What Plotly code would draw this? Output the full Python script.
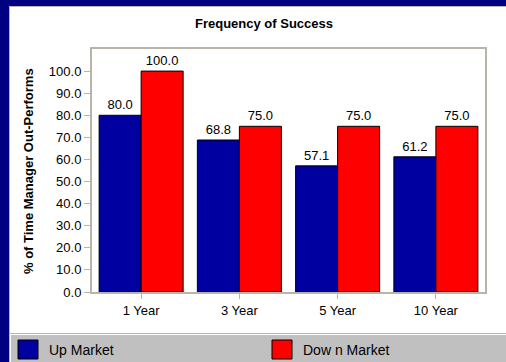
import plotly.graph_objects as go

categories = ["1 Year", "3 Year", "5 Year", "10 Year"]
up_market = [80.0, 68.8, 57.1, 61.2]
down_market = [100.0, 75.0, 75.0, 75.0]
series_names = ["Up Market", "Dow n Market"]
y_ticks = [0, 10, 20, 30, 40, 50, 60, 70, 80, 90, 100]

W, H = 506, 362
L, R, T, B = 92, 21, 49, 70
pw, ph = W - L - R, H - T - B

BLUE = "#0000A0"
RED = "#FF0000"
NAVY = "#000080"
LINE = "#B8B4A8"
FONT = "Liberation Sans, Arial, sans-serif"

def px(x):
    return (x - L) / pw

def py(y):
    return (H - B - y) / ph

fig = go.Figure()
for name, vals, col in [(series_names[0], up_market, BLUE), (series_names[1], down_market, RED)]:
    fig.add_trace(go.Bar(
        x=categories, y=vals, name=name,
        marker=dict(color=col, line=dict(color="black", width=1)),
        text=[f"{v:.1f}" for v in vals], textposition="outside",
        textfont=dict(family=FONT, size=13, color="black"),
        cliponaxis=False, showlegend=False,
    ))

shapes = [
    dict(type="rect", xref="paper", yref="paper", x0=px(-5), x1=px(520), y0=py(-5), y1=py(6),
         fillcolor=NAVY, line=dict(width=0), layer="below"),
    dict(type="rect", xref="paper", yref="paper", x0=px(-5), x1=px(9), y0=py(-5), y1=py(370),
         fillcolor=NAVY, line=dict(width=0), layer="below"),
    dict(type="line", xref="paper", yref="paper", x0=px(9), x1=px(520), y0=py(6.5), y1=py(6.5),
         line=dict(color=LINE, width=1)),
    dict(type="line", xref="paper", yref="paper", x0=px(9.5), x1=px(9.5), y0=py(6), y1=py(370),
         line=dict(color=LINE, width=1)),
    dict(type="line", xref="paper", yref="paper", x0=px(9), x1=px(520), y0=py(333.5), y1=py(333.5),
         line=dict(color=LINE, width=1)),
    dict(type="rect", xref="paper", yref="paper", x0=px(11), x1=px(520), y0=py(335), y1=py(370),
         fillcolor="#C0C0C0", line=dict(width=0), layer="below"),
    dict(type="rect", xref="paper", yref="paper", x0=px(18), x1=px(38), y0=py(340), y1=py(359),
         fillcolor=BLUE, line=dict(color="black", width=1)),
    dict(type="rect", xref="paper", yref="paper", x0=px(272), x1=px(292), y0=py(340), y1=py(359),
         fillcolor=RED, line=dict(color="black", width=1)),
]

annotations = [
    dict(text="<b>Frequency of Success</b>", xref="paper", yref="paper", x=px(264), y=py(23),
         xanchor="center", yanchor="middle", showarrow=False,
         font=dict(family=FONT, size=13, color="black")),
    dict(text="<b>% of Time Manager Out-Performs</b>", xref="paper", yref="paper", x=px(28), y=py(171),
         xanchor="center", yanchor="middle", showarrow=False, textangle=-90,
         font=dict(family=FONT, size=13, color="black")),
    dict(text=series_names[0], xref="paper", yref="paper", x=px(47), y=py(349.5),
         xanchor="left", yanchor="middle", showarrow=False,
         font=dict(family=FONT, size=14, color="black")),
    dict(text=series_names[1], xref="paper", yref="paper", x=px(301), y=py(349.5),
         xanchor="left", yanchor="middle", showarrow=False,
         font=dict(family=FONT, size=14, color="black")),
]

fig.update_layout(
    width=W, height=H,
    margin=dict(l=L, r=R, t=T, b=B, pad=0),
    paper_bgcolor="white", plot_bgcolor="white",
    barmode="group", bargap=0.145, bargroupgap=0,
    shapes=shapes, annotations=annotations,
    font=dict(family=FONT, size=13, color="black"),
    xaxis=dict(showline=True, linecolor=LINE, linewidth=2, mirror=True,
               ticks="outside", ticklen=5, tickcolor=LINE, tickwidth=1,
               tickfont=dict(family=FONT, size=13, color="black"), showgrid=False),
    yaxis=dict(range=[0, 110], tickvals=y_ticks, tickformat=".1f",
               showline=True, linecolor=LINE, linewidth=2, mirror=True,
               ticks="outside", ticklen=6, tickcolor=LINE, tickwidth=1,
               tickfont=dict(family=FONT, size=13, color="black"), showgrid=False, zeroline=False),
)

fig.write_html("out.html")
